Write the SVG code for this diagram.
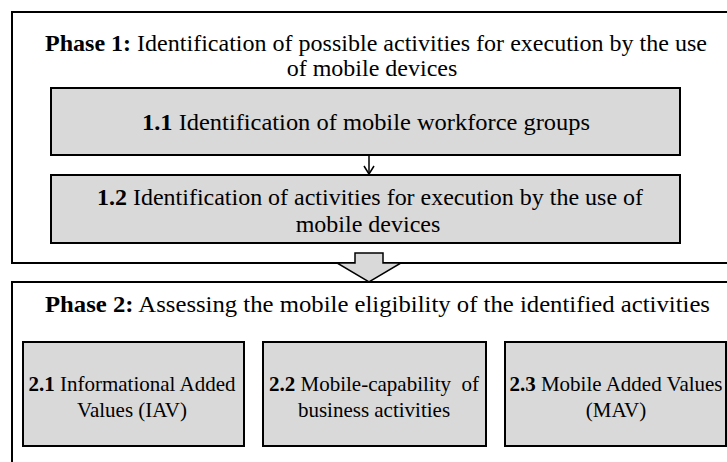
<svg xmlns="http://www.w3.org/2000/svg" width="727" height="462" viewBox="0 0 727 462">
<style>
.frame{fill:#ffffff;stroke:#000;stroke-width:2}
.box{fill:#d9d9d9;stroke:#000;stroke-width:2}
.t{font-family:"Liberation Serif","Times New Roman",serif;fill:#000}
.big{font-size:24px}
.small{font-size:21px}
.b{font-weight:bold}
.line{stroke:#000;stroke-width:1.5;fill:none}
</style>
<g id="phase1">
<rect class="frame" x="12" y="12" width="717" height="251"/>
<text class="t big" x="45" y="51" textLength="662" lengthAdjust="spacingAndGlyphs"><tspan class="b">Phase 1:</tspan> Identification of possible activities for execution by the use</text>
<text class="t big" x="372" y="76" text-anchor="middle">of mobile devices</text>
</g>
<g id="step11">
<rect class="box" x="51" y="88" width="629" height="67"/>
<text class="t big" x="366" y="130" text-anchor="middle" textLength="448" lengthAdjust="spacingAndGlyphs"><tspan class="b">1.1</tspan> Identification of mobile workforce groups</text>
</g>
<g id="step12">
<rect class="box" x="51" y="175" width="629" height="68"/>
<text class="t big" x="370" y="205" text-anchor="middle" textLength="546" lengthAdjust="spacingAndGlyphs"><tspan class="b">1.2</tspan> Identification of activities for execution by the use of</text>
<text class="t big" x="368" y="232" text-anchor="middle">mobile devices</text>
</g>
<g id="phase2">
<rect class="frame" x="12" y="282" width="717" height="200"/>
<text class="t big" x="45" y="312" textLength="665" lengthAdjust="spacingAndGlyphs"><tspan class="b">Phase 2:</tspan> Assessing the mobile eligibility of the identified activities</text>
</g>
<g id="step21">
<rect class="box" x="23" y="342" width="221" height="104"/>
<text class="t small" x="132" y="391" text-anchor="middle"><tspan class="b">2.1</tspan> Informational Added</text>
<text class="t small" x="132" y="417" text-anchor="middle">Values (IAV)</text>
</g>
<g id="step22">
<rect class="box" x="263" y="342" width="223" height="104"/>
<text class="t small" x="374" y="391" text-anchor="middle" xml:space="preserve"><tspan class="b">2.2</tspan> Mobile-capability  of</text>
<text class="t small" x="374" y="417" text-anchor="middle">business activities</text>
</g>
<g id="step23">
<rect class="box" x="505" y="342" width="221" height="104"/>
<text class="t small" x="616" y="391" text-anchor="middle"><tspan class="b">2.3</tspan> Mobile Added Values</text>
<text class="t small" x="616" y="417" text-anchor="middle">(MAV)</text>
</g>
<g id="connectors">
<line class="line" x1="369" y1="155" x2="369" y2="174"/>
<polyline class="line" points="364,166 369,174 374,166"/>
<polygon points="355,253 383,253 383,263 401,263 369,282 337,263 355,263" fill="#d9d9d9" stroke="#000" stroke-width="1.5"/>
</g>
</svg>
